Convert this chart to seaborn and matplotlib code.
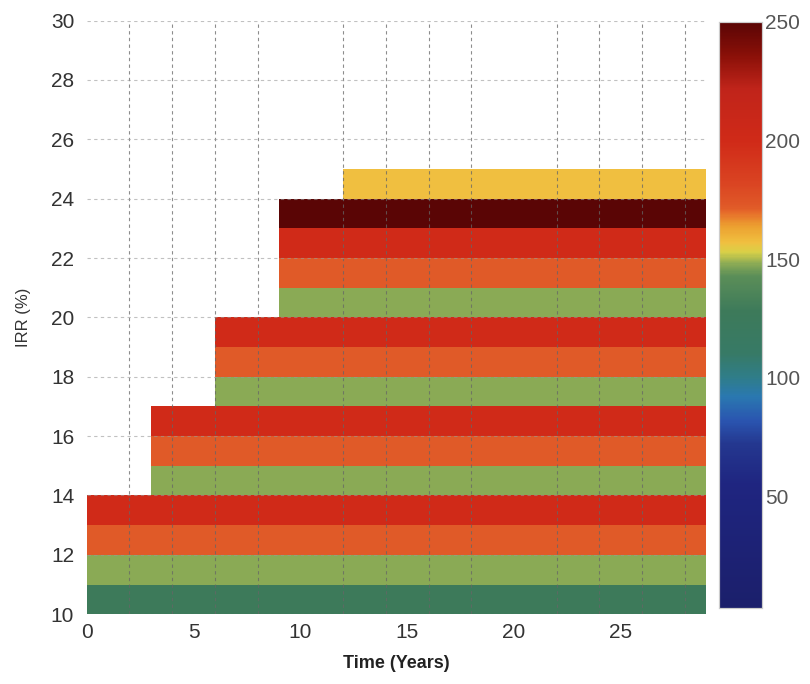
import numpy as np
import pandas as pd
import matplotlib
matplotlib.use("Agg")
import matplotlib.pyplot as plt
from matplotlib.colors import LinearSegmentedColormap
import seaborn as sns

# ---- data ----
irr_levels = [10, 11, 12, 13, 14, 15, 16, 17, 18, 19, 20, 21, 22, 23, 24]   # lower edge of each 1% IRR band
band_start = [0, 0, 0, 0, 3, 3, 3, 6, 6, 6, 9, 9, 9, 9, 12]                  # first year of each band
band_value = [128, 148, 172, 200, 148, 172, 200, 148, 172, 200, 148, 172, 200, 250, 157]
years = list(range(0, 29))
x_tick_labels = [0, 5, 10, 15, 20, 25]
y_tick_labels = [10, 12, 14, 16, 18, 20, 22, 24, 26, 28, 30]
cbar_ticks = [50, 100, 150, 200, 250]

# build grid (rows = IRR 10..29, cols = years)
irr_rows = list(range(10, 30))
grid = pd.DataFrame(np.nan, index=irr_rows, columns=years)
for lvl, st, val in zip(irr_levels, band_start, band_value):
    for yr in years:
        if yr >= st:
            grid.loc[lvl, yr] = val

VMIN, VMAX = 3, 250
# colormap (blue -> green -> yellow -> red -> dark red)
nodes = [
    (3, "#1b1f6b"), (55, "#1f2580"), (72, "#24378f"), (82, "#2a55b0"),
    (92, "#2a78b0"), (100, "#2f7d8a"), (110, "#377a66"), (128, "#3d7a5a"),
    (143, "#5b8e58"), (148, "#8aaa55"), (153, "#d8d048"), (157, "#f0c040"),
    (164, "#eca030"), (170, "#e66a2a"), (172, "#e05a28"), (182, "#da4422"),
    (200, "#d02a18"), (222, "#c0241a"), (236, "#8a1008"), (250, "#5a0505"),
]
cmap = LinearSegmentedColormap.from_list(
    "irr", [((v - VMIN) / (VMAX - VMIN), c) for v, c in nodes], N=512)

sns.set_style("white")
plt.rcParams["font.family"] = ["Liberation Sans", "DejaVu Sans"]

fig = plt.figure(figsize=(8.1, 6.84), dpi=100)
ax = fig.add_axes([0.107, 0.102, 0.765, 0.868])
cax = fig.add_axes([0.888, 0.111, 0.053, 0.857])

sns.heatmap(grid, cmap=cmap, vmin=VMIN, vmax=VMAX, ax=ax, cbar_ax=cax,
            xticklabels=False, yticklabels=False)
ax.set_ylim(0, 20)
ax.set_xlim(0, 29)

# ticks
ax.set_xticks([t - years[0] for t in x_tick_labels])
ax.set_xticklabels([str(t) for t in x_tick_labels], fontsize=15, color="#333333")
ax.set_yticks([t - irr_rows[0] for t in y_tick_labels])
ax.set_yticklabels([str(t) for t in y_tick_labels], fontsize=15, color="#333333", rotation=0)
ax.set_xticks(list(range(0, 29, 2)), minor=True)
ax.tick_params(axis="x", which="both", length=0, pad=6)
ax.tick_params(axis="y", which="both", length=0, pad=9)

ax.set_axisbelow(False)
ax.grid(False)
ax.xaxis.grid(True, which="minor", color="#666666", linestyle=(0, (3, 3)), linewidth=0.8, alpha=0.75)
ax.yaxis.grid(True, which="major", color="#999999", linestyle=(0, (3, 3)), linewidth=0.8, alpha=0.6)
for s in ax.spines.values():
    s.set_visible(False)

ax.set_xlabel("Time (Years)", fontsize=13, fontweight="bold", color="#222222", labelpad=10)
ax.set_ylabel("IRR (%)", fontsize=12, color="#333333", labelpad=14)

# colorbar styling
cax.set_yticks(cbar_ticks)
cax.set_yticklabels([str(t) for t in cbar_ticks], fontsize=15, color="#555555")
cax.tick_params(axis="y", length=3, width=0.6, colors="#555555", direction="in", pad=2)
for s in cax.spines.values():
    s.set_visible(True)
    s.set_color("#cccccc")
    s.set_linewidth(0.8)

fig.savefig("out.png", dpi=100)
